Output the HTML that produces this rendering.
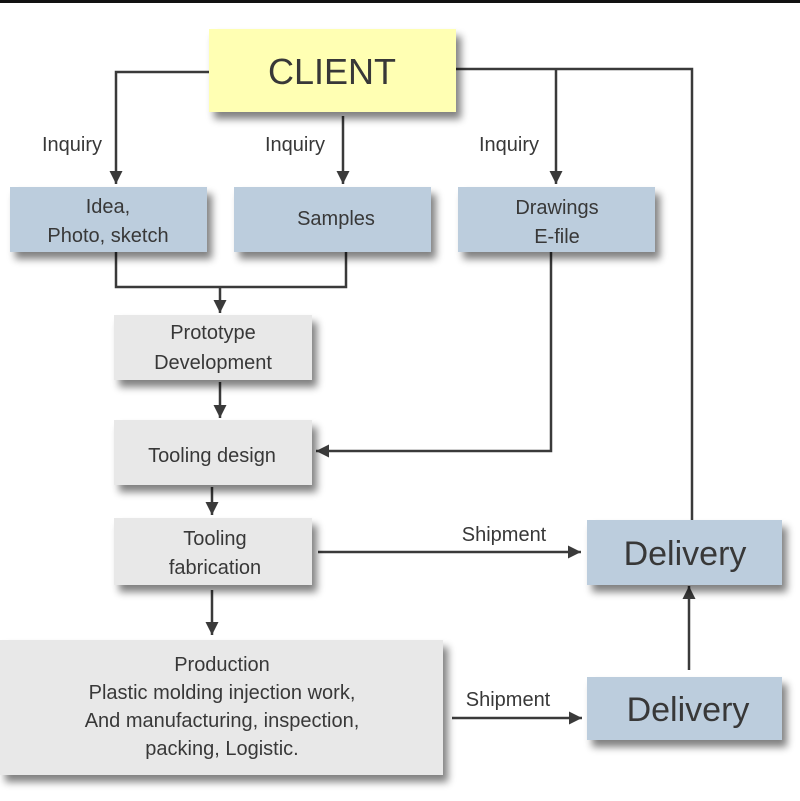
<!DOCTYPE html>
<html><head><style>
html,body{margin:0;padding:0;background:#fff;}
svg{display:block;}
text{font-family:"Liberation Sans",Arial,sans-serif;fill:#383838;}
</style></head><body>
<svg width="800" height="801" viewBox="0 0 800 801" xmlns="http://www.w3.org/2000/svg">
<defs>
<filter id="sh" x="-10%" y="-10%" width="130%" height="150%">
<feGaussianBlur in="SourceAlpha" stdDeviation="4"/>
<feOffset dx="5" dy="7" result="b"/>
<feComponentTransfer><feFuncA type="linear" slope="0.5"/></feComponentTransfer>
<feMerge><feMergeNode/><feMergeNode in="SourceGraphic"/></feMerge>
</filter>
<marker id="ar" markerWidth="14" markerHeight="14" refX="13" refY="6.5" orient="auto" markerUnits="userSpaceOnUse">
<path d="M0,0 L13,6.5 L0,13 Z" fill="#3a3a3a"/>
</marker>
</defs>
<rect x="0" y="0" width="800" height="3" fill="#111"/>

<g stroke="#3a3a3a" stroke-width="2.5" fill="none">
<polyline points="209,72 116,72 116,184" marker-end="url(#ar)"/>
<line x1="343" y1="116" x2="343" y2="184" marker-end="url(#ar)"/>
<polyline points="456,69 692,69 692,520"/>
<line x1="556" y1="69" x2="556" y2="184" marker-end="url(#ar)"/>
<polyline points="116,252 116,287 346,287 346,252"/>
<line x1="220" y1="287" x2="220" y2="313" marker-end="url(#ar)"/>
<line x1="220" y1="382" x2="220" y2="418" marker-end="url(#ar)"/>
<polyline points="551,252 551,451 316,451" marker-end="url(#ar)"/>
<line x1="212" y1="487" x2="212" y2="515" marker-end="url(#ar)"/>
<line x1="318" y1="552" x2="581" y2="552" marker-end="url(#ar)"/>
<line x1="212" y1="590" x2="212" y2="635" marker-end="url(#ar)"/>
<line x1="452" y1="718" x2="582" y2="718" marker-end="url(#ar)"/>
<line x1="689" y1="670" x2="689" y2="586" marker-end="url(#ar)"/>
</g>

<g filter="url(#sh)">
<rect x="209" y="29" width="247" height="83" fill="#ffffb3"/>
<rect x="10" y="187" width="197" height="65" fill="#bccddd"/>
<rect x="234" y="187" width="197" height="65" fill="#bccddd"/>
<rect x="458" y="187" width="197" height="65" fill="#bccddd"/>
<rect x="114" y="315" width="198" height="65" fill="#e8e8e8"/>
<rect x="114" y="420" width="198" height="65" fill="#e8e8e8"/>
<rect x="114" y="518" width="198" height="67" fill="#e8e8e8"/>
<rect x="0" y="640" width="443" height="135" fill="#e8e8e8"/>
<rect x="587" y="520" width="195" height="65" fill="#bccddd"/>
<rect x="587" y="677" width="195" height="63" fill="#bccddd"/>
</g>

<text x="332" y="84" font-size="36" text-anchor="middle">CLIENT</text>
<text x="72" y="151" font-size="20" text-anchor="middle">Inquiry</text>
<text x="295" y="151" font-size="20" text-anchor="middle">Inquiry</text>
<text x="509" y="151" font-size="20" text-anchor="middle">Inquiry</text>
<text x="108" y="213" font-size="20" text-anchor="middle">Idea,</text>
<text x="108" y="242" font-size="20" text-anchor="middle">Photo, sketch</text>
<text x="336" y="225" font-size="20" text-anchor="middle">Samples</text>
<text x="557" y="214" font-size="20" text-anchor="middle">Drawings</text>
<text x="557" y="243" font-size="20" text-anchor="middle">E-file</text>
<text x="213" y="339" font-size="20" text-anchor="middle">Prototype</text>
<text x="213" y="369" font-size="20" text-anchor="middle">Development</text>
<text x="212" y="462" font-size="20" text-anchor="middle">Tooling design</text>
<text x="215" y="545" font-size="20" text-anchor="middle">Tooling</text>
<text x="215" y="574" font-size="20" text-anchor="middle">fabrication</text>
<text x="504" y="541" font-size="20" text-anchor="middle">Shipment</text>
<text x="685" y="565" font-size="34" text-anchor="middle">Delivery</text>
<text x="222" y="671" font-size="20" text-anchor="middle">Production</text>
<text x="222" y="699" font-size="20" text-anchor="middle">Plastic molding injection work,</text>
<text x="222" y="727" font-size="20" text-anchor="middle">And manufacturing, inspection,</text>
<text x="222" y="755" font-size="20" text-anchor="middle">packing, Logistic.</text>
<text x="508" y="706" font-size="20" text-anchor="middle">Shipment</text>
<text x="688" y="721" font-size="34" text-anchor="middle">Delivery</text>
</svg>
</body></html>
